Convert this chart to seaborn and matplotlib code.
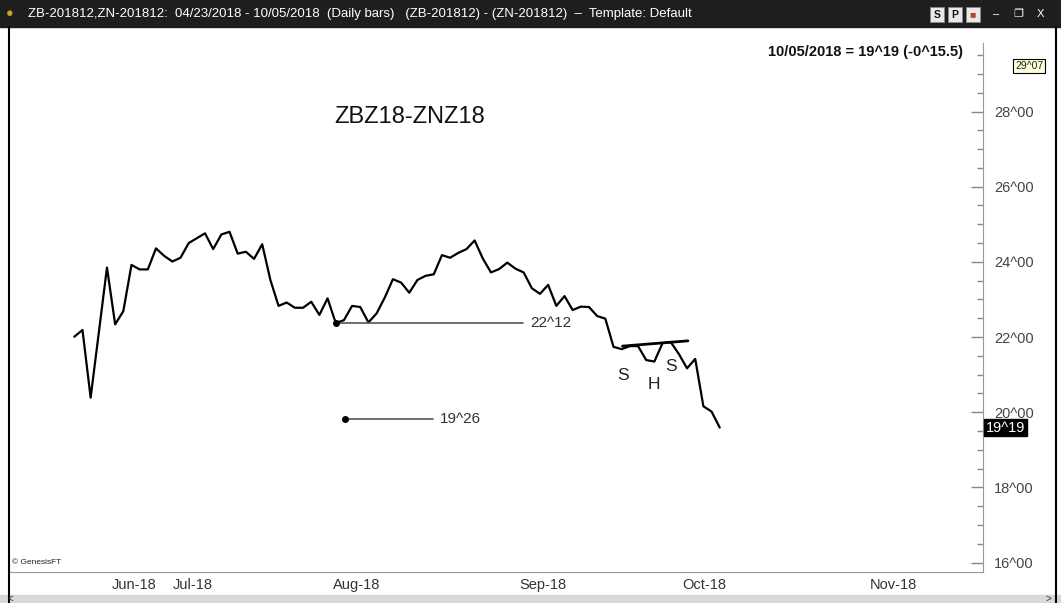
import seaborn as sns
import matplotlib.pyplot as plt
import pandas as pd
from matplotlib.patches import Rectangle
from matplotlib.lines import Line2D

# daily closes of the ZBZ18-ZNZ18 spread (points), one per bar
spread = [22.01, 22.19, 20.39, 22.12, 23.85, 22.34, 22.69, 23.92, 23.80, 23.80,
          24.36, 24.16, 24.01, 24.11, 24.50, 24.63, 24.76, 24.34, 24.73, 24.80,
          24.22, 24.27, 24.08, 24.47, 23.52, 22.83, 22.92, 22.78, 22.78, 22.94,
          22.59, 23.03, 22.375, 22.45, 22.83, 22.80, 22.39, 22.63, 23.05, 23.54,
          23.45, 23.18, 23.52, 23.63, 23.67, 24.18, 24.11, 24.24, 24.34, 24.57,
          24.09, 23.72, 23.81, 23.98, 23.82, 23.72, 23.30, 23.15, 23.39, 22.83,
          23.09, 22.72, 22.81, 22.80, 22.56, 22.49, 21.74, 21.68, 21.76, 21.76,
          21.39, 21.35, 21.84, 21.87, 21.55, 21.17, 21.42, 20.16, 20.02, 19.594]

month_labels = ["Jun-18", "Jul-18", "Aug-18", "Sep-18", "Oct-18", "Nov-18"]
month_pos = [7.3, 14.5, 34.6, 57.3, 77.1, 100.2]

y_ticks = [16, 18, 20, 22, 24, 26, 28]
y_tick_labels = ["16^00", "18^00", "20^00", "22^00", "24^00", "26^00", "28^00"]

level_hi = 22.375    # 22^12
level_hi_bar = 32
level_lo = 19.8125   # 19^26
neckline_x = [67.1, 75.1]
neckline_y = [21.76, 21.90]
shs_labels = ["S", "H", "S"]
shs_x = [67.1, 71.0, 73.0]
shs_y = [20.99, 20.75, 21.23]

df = pd.DataFrame({"bar": range(len(spread)), "spread": spread})

sns.set_style("white")
plt.rcParams['font.family'] = ['Liberation Sans', 'DejaVu Sans']

W, H = 1061, 603
fig = plt.figure(figsize=(W / 100, H / 100), dpi=100)
ax = fig.add_axes([10 / W, 31 / H, 973 / W, (572 - 27) / H])

sns.lineplot(data=df, x="bar", y="spread", color="black", linewidth=1.6, ax=ax)

# support level 22^12 and the 19^26 marker
ax.plot([level_hi_bar, 54.9], [level_hi, level_hi], color="#555555", lw=1.2)
ax.plot(level_hi_bar, level_hi, "o", color="black", ms=4)
ax.text(55.8, level_hi, "22^12", va="center", fontsize=11, color="#333333")
ax.plot([33.1, 43.9], [level_lo, level_lo], color="#555555", lw=1.2)
ax.plot(33.1, level_lo, "o", color="black", ms=4)
ax.text(44.8, level_lo, "19^26", va="center", fontsize=11, color="#333333")

# head and shoulders
ax.plot(neckline_x, neckline_y, color="black", lw=2)
for lab, xx, yy in zip(shs_labels, shs_x, shs_y):
    ax.text(xx, yy, lab, ha="center", va="center", fontsize=12.5, color="#222222")

x_left = -7.87
ax.set_xlim(x_left, x_left + 973 / 8.17)
ax.set_ylim(28 - (572 - 111.5) / 37.6, 28 + (111.5 - 27) / 37.6)

ax.set_xticks(month_pos)
ax.set_xticklabels(month_labels)
ax.tick_params(axis="x", length=0, pad=4, labelsize=10.5, labelcolor="#333333")
ax.yaxis.tick_right()
ax.set_yticks(y_ticks)
ax.set_yticklabels(y_tick_labels)
ax.set_yticks([v + 0.5 * k for v in range(16, 30) for k in range(2)
               if (v + 0.5 * k) not in y_ticks and v + 0.5 * k <= 29.5], minor=True)
ax.tick_params(axis="y", which="major", direction="in", length=9, width=1,
               color="#888888", pad=8, labelsize=10.5, labelcolor="#444444")
ax.tick_params(axis="y", which="minor", direction="in", length=4, width=1,
               color="#888888", right=True, left=False)
ax.set_xlabel("")
ax.set_ylabel("")

for s in ["top", "left"]:
    ax.spines[s].set_visible(False)
ax.spines["bottom"].set_color("#999999")
ax.spines["right"].set_color("#999999")
ax.spines["right"].set_bounds(ax.get_ylim()[0], 28 + (111.5 - 43) / 37.6)

# price boxes on the axis
ytr = ax.get_yaxis_transform()
ax.text(1.003, 19.594, "19^19", transform=ytr, va="center", ha="left", fontsize=10.5,
        color="white", bbox=dict(boxstyle="square,pad=0.12", fc="black", ec="black"))
ax.text(1.033, 29.22, "29^07", transform=ytr, va="center", ha="left", fontsize=7.5,
        color="#222222", bbox=dict(boxstyle="square,pad=0.2", fc="#ffffdc", ec="black", lw=0.8))

fig.text(410 / W, 1 - 117 / H, "ZBZ18-ZNZ18", ha="center", va="center", fontsize=17, color="#111111")
fig.text(963 / W, 1 - 52 / H, "10/05/2018 = 19^19 (-0^15.5)", ha="right", va="center",
         fontsize=10.5, fontweight="bold", color="#111111")
fig.text(12 / W, 1 - 563 / H, "\u00a9 GenesisFT", ha="left", va="center", fontsize=6, color="#222222")

# window chrome: title bar, borders and scroll bar
fig.patches.append(Rectangle((0, 1 - 27 / H), 1, 27 / H, transform=fig.transFigure,
                             color="#1e1e1e", zorder=0))
fig.patches.append(Rectangle((0, 0), 1, 8 / H, transform=fig.transFigure,
                             color="#d8d8d8", zorder=0))
fig.text(6 / W, 1 - 14 / H, "\u25cf", color="#c9a227", fontsize=9, va="center")
fig.text(28 / W, 1 - 14 / H,
         "ZB-201812,ZN-201812:  04/23/2018 - 10/05/2018  (Daily bars)   (ZB-201812) - (ZN-201812)  \u2013  Template: Default",
         color="white", fontsize=9.5, va="center")
for bx, lab, fc in [(930, "S", "#e8e8e8"), (948, "P", "#e8e8e8"), (966, "\u25a0", "#e8e8e8")]:
    fig.patches.append(Rectangle((bx / W, 1 - 22 / H), 14 / W, 15 / H, transform=fig.transFigure,
                                 fc=fc, ec="#888888", lw=0.6, zorder=1))
    fig.text((bx + 7) / W, 1 - 14.5 / H, lab, ha="center", va="center", fontsize=7.5,
             color="#c0392b" if lab == "\u25a0" else "#111111", fontweight="bold", zorder=2)
for bx, lab in [(996, "\u2013"), (1018, "\u2750"), (1040, "X")]:
    fig.text(bx / W, 1 - 14 / H, lab, ha="center", va="center", fontsize=8, color="white")
fig.text(10 / W, 4 / H, "<", ha="center", va="center", fontsize=7, color="#333333")
fig.text(1048 / W, 4 / H, ">", ha="center", va="center", fontsize=7, color="#333333")
fig.lines.append(Line2D([8.5 / W, 8.5 / W], [0, 1 - 27 / H], transform=fig.transFigure,
                        color="black", lw=1.5))
fig.lines.append(Line2D([1055.5 / W, 1055.5 / W], [0, 1 - 27 / H], transform=fig.transFigure,
                        color="black", lw=1.5))

fig.savefig("out.png", dpi=100)
